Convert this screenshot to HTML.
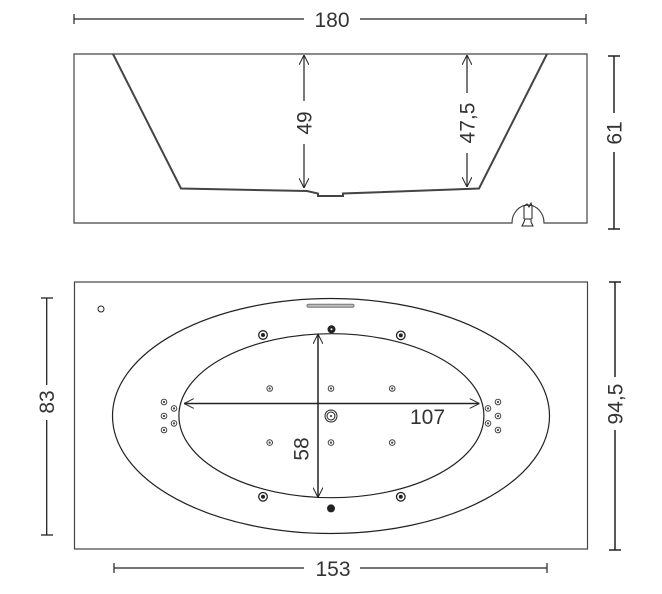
<!DOCTYPE html>
<html><head><meta charset="utf-8"><style>
html,body{margin:0;padding:0;background:#fff;}
svg{display:block;}
text{font-family:"Liberation Sans",sans-serif;font-size:21px;fill:#333;}
</style></head><body>
<svg width="662" height="594" viewBox="0 0 662 594" xmlns="http://www.w3.org/2000/svg">
<defs>
<marker id="ar" viewBox="0 0 10 10" refX="10" refY="5" markerWidth="10" markerHeight="10" markerUnits="userSpaceOnUse" orient="auto-start-reverse">
<path d="M0,0 L10,5 L0,10" fill="none" stroke="#222" stroke-width="1"/>
</marker>
</defs>
<g stroke="#222" fill="none" stroke-width="1.2">
<line x1="74" y1="19" x2="304" y2="19"/>
<line x1="360" y1="19" x2="586" y2="19"/>
<line x1="74" y1="14" x2="74" y2="24"/>
<line x1="586" y1="14" x2="586" y2="24"/>
<path d="M74,54 L587,54 L587,223 L544,223 A16,18 0 0 0 512,223 L74,223 Z" stroke="#444"/>
<path d="M113,54 L181,188.5 L307,191 L318,193.5 L318,196 L343,196 L343,193.5 L479,188.5 L547,54" stroke="#444" stroke-width="2"/>
<path d="M524,219 L524,206 L527,204 L529,207 L531,203 L532,206 L532,219" stroke-width="1"/>
<path d="M525,219 L531,219 L531,222 L533,226 L522,226 L524,222 Z" stroke-width="1"/>
<line x1="304" y1="55" x2="304" y2="101" marker-start="url(#ar)"/>
<line x1="304" y1="144" x2="304" y2="188" marker-end="url(#ar)"/>
<line x1="467" y1="55" x2="467" y2="93" marker-start="url(#ar)"/>
<line x1="467" y1="153" x2="467" y2="187" marker-end="url(#ar)"/>
<line x1="614" y1="56" x2="614" y2="113" stroke-width="1.5"/>
<line x1="614" y1="152" x2="614" y2="229" stroke-width="1.5"/>
<line x1="608" y1="56" x2="620" y2="56" stroke-width="1.5"/>
<line x1="608" y1="229" x2="620" y2="229" stroke-width="1.5"/>

<rect x="74.5" y="282" width="513" height="267" stroke="#444"/>
<circle cx="101" cy="309" r="3" stroke-width="1"/>
<ellipse cx="331" cy="416" rx="218.5" ry="117.5" stroke-width="1.2"/>
<ellipse cx="331.4" cy="415.7" rx="152.5" ry="82" stroke-width="1.2"/>
<rect x="307" y="304.2" width="47" height="3" rx="1.5" stroke="#777" fill="#bbb" stroke-width="1"/>
<line x1="184" y1="403.5" x2="479.5" y2="403.5" marker-start="url(#ar)" marker-end="url(#ar)" stroke-width="1.5"/>
<line x1="318" y1="334" x2="318" y2="497.5" marker-start="url(#ar)" marker-end="url(#ar)" stroke-width="1.5"/>
<circle cx="331" cy="416" r="6" stroke-width="1"/>
<circle cx="331" cy="416" r="4" stroke-width="1"/>
<circle cx="331" cy="416" r="1" fill="#222" stroke="none"/>
<g stroke-width="1" stroke="#444">
<circle cx="269.7" cy="388.5" r="2.8"/><circle cx="331" cy="388.5" r="2.8"/><circle cx="392.2" cy="388.5" r="2.8"/>
<circle cx="269.7" cy="442.6" r="2.8"/><circle cx="331" cy="442.6" r="2.8"/><circle cx="392.2" cy="442.6" r="2.8"/>
<circle cx="164" cy="402" r="2.8"/><circle cx="174" cy="408.4" r="2.8"/><circle cx="164" cy="416" r="2.8"/><circle cx="174" cy="423.4" r="2.8"/><circle cx="164" cy="430" r="2.8"/>
<circle cx="498" cy="402" r="2.8"/><circle cx="488" cy="408.4" r="2.8"/><circle cx="498" cy="416" r="2.8"/><circle cx="488" cy="423.4" r="2.8"/><circle cx="498" cy="430" r="2.8"/>
</g>
<g fill="#444" stroke="none">
<circle cx="269.7" cy="388.5" r="1.1"/><circle cx="331" cy="388.5" r="1.1"/><circle cx="392.2" cy="388.5" r="1.1"/>
<circle cx="269.7" cy="442.6" r="1.1"/><circle cx="331" cy="442.6" r="1.1"/><circle cx="392.2" cy="442.6" r="1.1"/>
<circle cx="164" cy="402" r="1.1"/><circle cx="174" cy="408.4" r="1.1"/><circle cx="164" cy="416" r="1.1"/><circle cx="174" cy="423.4" r="1.1"/><circle cx="164" cy="430" r="1.1"/>
<circle cx="498" cy="402" r="1.1"/><circle cx="488" cy="408.4" r="1.1"/><circle cx="498" cy="416" r="1.1"/><circle cx="488" cy="423.4" r="1.1"/><circle cx="498" cy="430" r="1.1"/>
</g>
<g stroke-width="1.3" stroke="#222">
<circle cx="263" cy="335" r="4.3"/><circle cx="400.8" cy="335.4" r="4.3"/>
<circle cx="263" cy="496.8" r="4.3"/><circle cx="400.8" cy="496.8" r="4.3"/>
</g>
<g fill="#222" stroke="none">
<circle cx="263" cy="335" r="2"/><circle cx="400.8" cy="335.4" r="2"/>
<circle cx="263" cy="496.8" r="2"/><circle cx="400.8" cy="496.8" r="2"/>
<circle cx="331.5" cy="329.3" r="4"/>
<circle cx="331" cy="508.4" r="4"/>
</g>
<circle cx="331.5" cy="329.3" r="1" fill="#fff" stroke="none"/>
<line x1="114" y1="568" x2="304" y2="568"/>
<line x1="360" y1="568" x2="547" y2="568"/>
<line x1="114" y1="563" x2="114" y2="573"/>
<line x1="547" y1="563" x2="547" y2="573"/>
<line x1="615" y1="282" x2="615" y2="377" stroke-width="1.5"/>
<line x1="615" y1="430" x2="615" y2="550" stroke-width="1.5"/>
<line x1="609" y1="282" x2="621" y2="282" stroke-width="1.5"/>
<line x1="609" y1="550" x2="621" y2="550" stroke-width="1.5"/>
<line x1="46.7" y1="298" x2="46.7" y2="385" stroke-width="1.3"/>
<line x1="46.7" y1="420" x2="46.7" y2="535" stroke-width="1.3"/>
<line x1="41" y1="298" x2="53" y2="298" stroke-width="1.3"/>
<line x1="41" y1="535" x2="53" y2="535" stroke-width="1.3"/>
</g>
<text x="332" y="27" text-anchor="middle">180</text>
<text transform="translate(311.5,123) rotate(-90)" text-anchor="middle">49</text>
<text transform="translate(474.5,123) rotate(-90)" text-anchor="middle">47,5</text>
<text transform="translate(621.5,133) rotate(-90)" text-anchor="middle">61</text>
<text x="427.5" y="424" text-anchor="middle">107</text>
<text transform="translate(308.5,449) rotate(-90)" text-anchor="middle">58</text>
<text x="333" y="576" text-anchor="middle">153</text>
<text transform="translate(622.5,404) rotate(-90)" text-anchor="middle">94,5</text>
<text transform="translate(54,402) rotate(-90)" text-anchor="middle">83</text>
</svg>
</body></html>
